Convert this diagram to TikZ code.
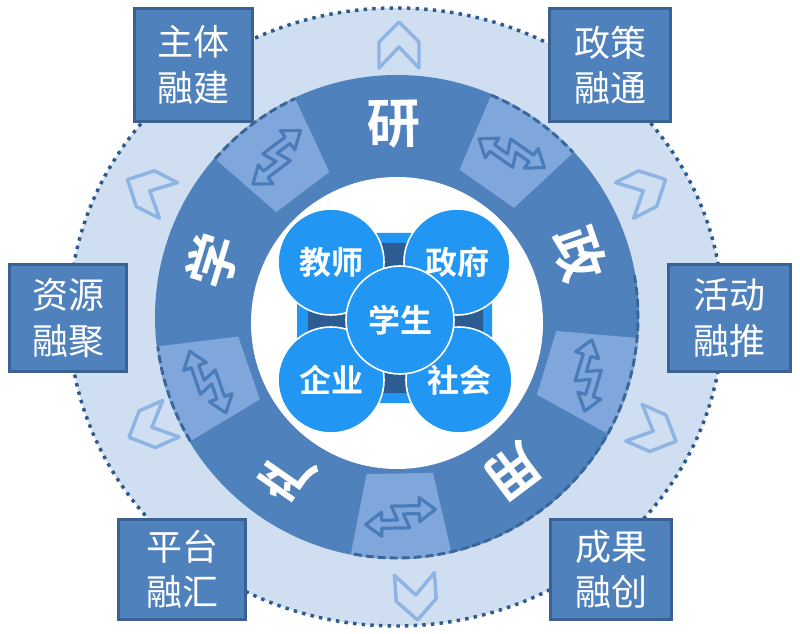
\documentclass[tikz,border=0pt]{standalone}
\usepackage{fontspec}
\usetikzlibrary{calc}
\newfontfamily\cjk{Noto Sans CJK SC}
\newfontfamily\cjkb{Noto Sans CJK SC Bold}
\definecolor{bgc}{HTML}{D0DEF2}
\definecolor{ringc}{HTML}{4F81BD}
\definecolor{lightp}{HTML}{7FA7DC}
\definecolor{dotc}{HTML}{2F5A8C}
\definecolor{dashc}{HTML}{3A6699}
\definecolor{boxb}{HTML}{3A6194}
\definecolor{chev}{HTML}{8DB4E3}
\definecolor{ballc}{HTML}{2196F3}
\definecolor{navy}{HTML}{2D5C92}
\definecolor{arrc}{HTML}{4B7CBA}
\tikzset{
 fbox/.style={draw=boxb, line width=2.25pt, fill=ringc, text=white, align=center, inner sep=0pt, font=\cjk\fontsize{27pt}{34pt}\selectfont},
 seglab/.style={text=white, font=\cjkb\fontsize{40pt}{40pt}\selectfont, inner sep=0pt},
 ball/.style={circle, fill=ballc, draw=white, line width=1.2pt, inner sep=0pt, text=white, font=\cjkb\fontsize{24pt}{24pt}\selectfont},
 chevst/.style={draw=chev, line width=2.6pt, line join=round},
 arrst/.style={draw=arrc, line width=2.4pt, line join=round},
 dashst/.style={draw=dashc, line width=2.2pt, dash pattern=on 6pt off 3pt},
 dotst/.style={draw=dotc, line width=2.6pt, dash pattern=on 2.6pt off 3.9pt},
}
\newcommand\chevronat[3]{\draw[chevst, shift={(#1,#2)}, rotate=#3] (0,23) -- (20,3) -- (20,-23) -- (0,-2) -- (-20,-23) -- (-20,3) -- cycle;}
\begin{document}
\begin{tikzpicture}[x=0.75pt,y=0.75pt]
\useasboundingbox (0,0) rectangle (800,633);
\fill[white] (0,0) rectangle (800,633);
\coordinate (C) at (397,316);
% outer light disk
\fill[bgc] (396,316) ellipse [x radius=327, y radius=309];
\draw[dotst] (396,316) ellipse [x radius=327, y radius=309];
% chevrons
\chevronat{399}{588}{0}
\chevronat{645}{443}{-63}
\chevronat{655}{201}{-114}
\chevronat{416}{36}{-176}
\chevronat{150}{205}{114}
\chevronat{148}{443}{63}
% boxes
\node[fbox, minimum width=89pt, minimum height=85pt] (zhuti) at (193.5,568) {主体\\融建};
\node[fbox, minimum width=91pt, minimum height=85pt] (zhengce) at (610,568) {政策\\融通};
\node[fbox, minimum width=88pt, minimum height=80.5pt] (ziyuan) at (68,315) {资源\\融聚};
\node[fbox, minimum width=92pt, minimum height=80.5pt] (huodong) at (729.5,315) {活动\\融推};
\node[fbox, minimum width=95.5pt, minimum height=75.5pt] (pingtai) at (182,63.5) {平台\\融汇};
\node[fbox, minimum width=91pt, minimum height=75.5pt] (chengguo) at (611,63.5) {成果\\融创};
% dark ring
\fill[ringc] (C) circle[radius=242];
% light pieces
\foreach \a in {127,55,-17,-89,-161}{
  \fill[lightp] ($(C)+(\a-12:160)$) -- ($(C)+(\a-12:242)$) arc[start angle=\a-12, end angle=\a+12, radius=242] -- ($(C)+(\a+12:160)$) -- cycle;
  \draw[arrst, shift={($(C)+(\a:200)$)}, rotate=\a-90]
    (-35,-7) -- (-19,5) -- (-19,-3) -- (-3,-3) -- (-9,11) -- (19,11) -- (19,19) -- (35,7) -- (19,-5) -- (19,3) -- (3,3) -- (9,-11) -- (-19,-11) -- (-19,-19) -- cycle;
}
% dashed rim
\draw[dashst] ($(C)+(139:241)$) arc[start angle=139, end angle=115, radius=241];
\draw[dashst] ($(C)+(67:241)$) arc[start angle=67, end angle=43, radius=241];
\draw[dashst] ($(C)+(10:241)$) arc[start angle=10, end angle=-101, radius=241];
\draw[dashst] ($(C)+(-149:241)$) arc[start angle=-149, end angle=-173, radius=241];
% white disk
\fill[white] (397,310) circle[radius=146];
% ring labels
\node[seglab, rotate=1] (yan) at ($(C)+(91:193)$) {研};
\node[seglab, rotate=-71] (zheng) at ($(C)+(19:193)$) {政};
\node[seglab, rotate=-143] (yong) at ($(C)+(-53:193)$) {用};
\node[seglab, rotate=145] (chan) at ($(C)+(-125:193)$) {产};
\node[seglab, rotate=73] (xue) at ($(C)+(163:193)$) {学};
% centre
\fill[ballc, rounded corners=12pt] (297,230) rectangle (492,400);
\fill[navy, rounded corners=6pt] (308,240) rectangle (483,390);
\node[ball, minimum size=79.5pt] (jiaoshi) at (331,371) {教师};
\node[ball, minimum size=79.5pt] (zhengfu) at (457,371) {政府};
\node[ball, minimum size=79.5pt] (qiye) at (331,253) {企业};
\node[ball, minimum size=79.5pt] (shehui) at (459,253) {社会};
\node[ball, minimum size=81pt] (xuesheng) at (400,313) {学生};
\end{tikzpicture}
\end{document}
